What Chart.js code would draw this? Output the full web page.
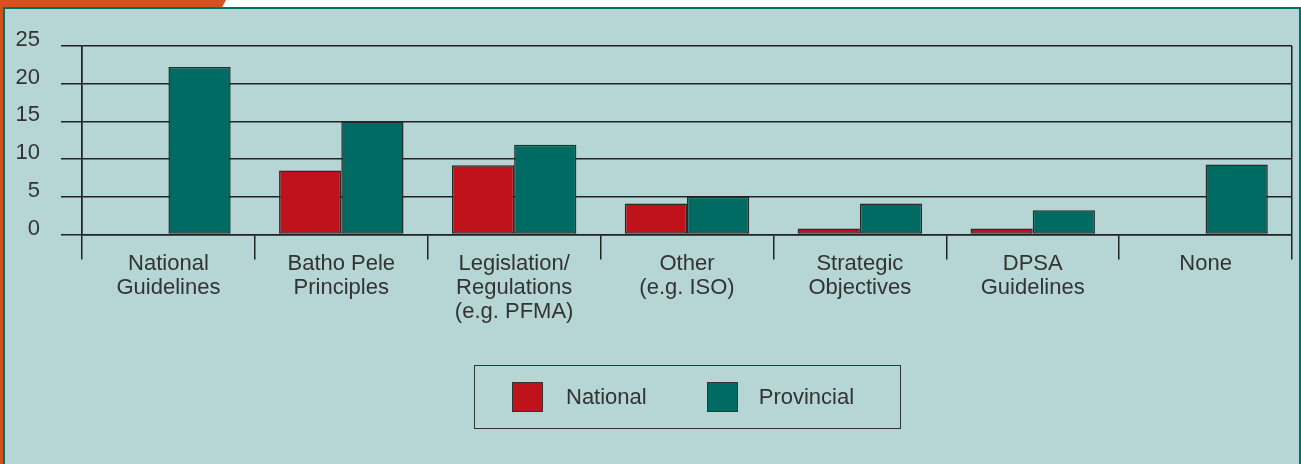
<!DOCTYPE html>
<html>
<head>
<meta charset="utf-8">
<script src="https://cdn.jsdelivr.net/npm/chart.js@4/dist/chart.umd.min.js"></script>
<style>
  body { margin: 0; background: #fff; font-family: "Liberation Sans", Arial, sans-serif; }
  #page { position: relative; width: 1301px; height: 464px; overflow: hidden; }
  #orangeTop { position: absolute; left: 0; top: 0; width: 230px; height: 9px; background: #d4521e;
    clip-path: polygon(0 0, 226px 0, 221px 9px, 0 9px); }
  #orangeLeft { position: absolute; left: 0; top: 0; width: 4px; height: 464px; background: #d4521e; }
  #panel { position: absolute; left: 3px; top: 7px; width: 1294px; height: 470px; background: #b6d5d5;
    border: 2px solid #007068; }
  #wrap { position: absolute; left: 0; top: 0; width: 1301px; height: 464px; }
  #legend { position: absolute; left: 474px; top: 365px; width: 425px; height: 62px;
    border: 1.5px solid #333; display: flex; align-items: center; font-size: 22px; color: #333; }
  .sw { width: 31px; height: 30px; border: 1px solid #333; box-sizing: border-box; }
</style>
</head>
<body>
<div id="page">
  <div id="orangeTop"></div>
  <div id="orangeLeft"></div>
  <div id="panel"></div>
  <div id="wrap"><canvas id="chart"></canvas></div>
  <div id="legend"></div>
</div>
<script>
const categories = [
  ["National", "Guidelines"],
  ["Batho Pele", "Principles"],
  ["Legislation/", "Regulations", "(e.g. PFMA)"],
  ["Other", "(e.g. ISO)"],
  ["Strategic", "Objectives"],
  ["DPSA", "Guidelines"],
  ["None"]
];
const nationalValues = [0, 8.5, 9.2, 4.1, 0.8, 0.8, 0];
const provincialValues = [22.2, 15, 11.9, 5, 4.1, 3.2, 9.3];
const yTicks = [0, 5, 10, 15, 20, 25];

const seriesNames = ["National", "Provincial"];
const seriesColors = ["#c0121b", "#006b63"];
const lineColor = "#222";

// legend (boxed, below the chart)
const legend = document.getElementById("legend");
seriesNames.forEach((name, i) => {
    const sw = document.createElement("div");
    sw.className = "sw";
    sw.style.background = seriesColors[i];
    sw.style.marginLeft = i === 0 ? "37px" : "60px";
    const txt = document.createElement("span");
    txt.textContent = name;
    txt.style.marginLeft = i === 0 ? "23px" : "21px";
    legend.appendChild(sw);
    legend.appendChild(txt);
});

new Chart(document.getElementById("chart"), {
    type: "bar",
    data: {
        labels: categories,
        datasets: [
            {
                label: seriesNames[0],
                data: nationalValues,
                backgroundColor: seriesColors[0],
                borderColor: "#2a2a2a",
                borderWidth: 1.5,
                borderSkipped: false,
                categoryPercentage: 0.72,
                barPercentage: 1
            },
            {
                label: seriesNames[1],
                data: provincialValues,
                backgroundColor: seriesColors[1],
                borderColor: "#2a2a2a",
                borderWidth: 1.5,
                borderSkipped: false,
                categoryPercentage: 0.72,
                barPercentage: 1
            }
        ]
    },
    options: {
        responsive: true,
        maintainAspectRatio: false,
        animation: false,
        layout: { padding: { left: 0, top: 46, right: 9, bottom: 0 } },
        plugins: {
            legend: { display: false },
            tooltip: { enabled: false }
        },
        scales: {
            x: {
                afterFit: scale => { scale.height = 464 - 234.5; },
                grid: {
                    offset: true,
                    color: ctx => (ctx.type !== "tick" || ctx.index === 0) ? lineColor : "transparent",
                    tickColor: lineColor,
                    tickLength: 25,
                    lineWidth: 1.5
                },
                border: { display: true, color: lineColor, width: 1.5 },
                ticks: {
                    color: "#333",
                    font: { family: "Liberation Sans", size: 22, lineHeight: 1.1 },
                    padding: -8,
                    maxRotation: 0,
                    autoSkip: false
                }
            },
            y: {
                min: 0,
                max: 25,
                afterFit: scale => { scale.width = 82; },
                afterBuildTicks: scale => { scale.ticks = yTicks.map(v => ({ value: v })); },
                grid: {
                    color: lineColor,
                    tickColor: lineColor,
                    tickLength: 21,
                    lineWidth: 1.5
                },
                border: { display: true, color: lineColor, width: 1.5 },
                ticks: {
                    color: "#333",
                    font: { family: "Liberation Sans", size: 22 },
                    padding: 21,
                    labelOffset: -6
                }
            }
        }
    }
});
</script>
</body>
</html>
